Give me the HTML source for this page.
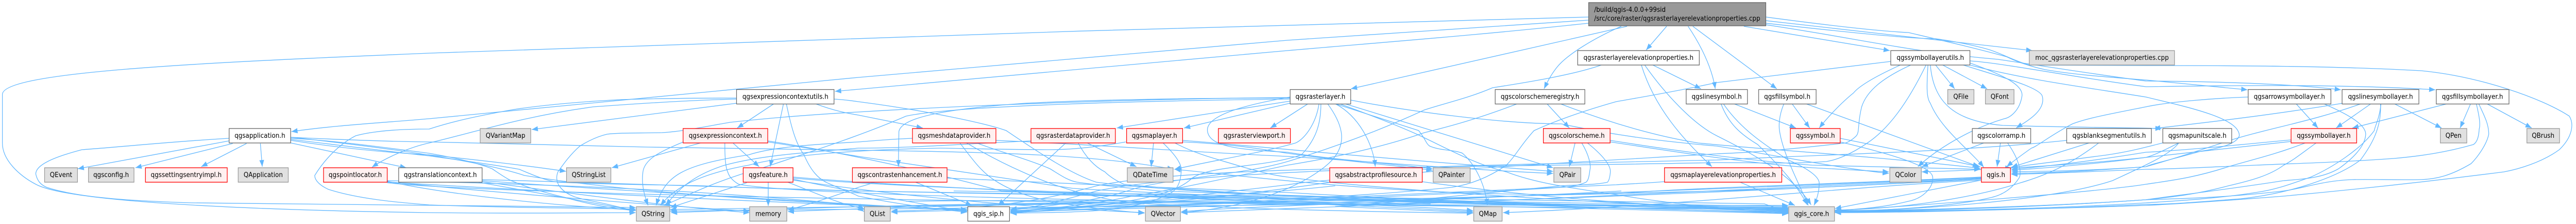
<!DOCTYPE html>
<html><head><meta charset="utf-8"><title>Include graph</title>
<style>html,body{margin:0;padding:0;background:#fff;width:100%;height:100%;overflow:hidden}svg{display:block;position:absolute;left:0;top:0;width:100vw;height:100vh}svg text{font-family:"DejaVu Sans","Liberation Sans",sans-serif;font-size:12.9px;fill:#000;text-anchor:middle}.w{fill:#fff;stroke:#666;stroke-width:1.33}.g{fill:#e0e0e0;stroke:#999;stroke-width:1.33}.r{fill:#fff0f0;stroke:#f00;stroke-width:1.33}.m{fill:#999;stroke:#666;stroke-width:1.33}</style></head><body>
<svg xmlns="http://www.w3.org/2000/svg" viewBox="0 0 5402 434" preserveAspectRatio="none">
<defs><marker id="a" markerUnits="userSpaceOnUse" markerWidth="14" markerHeight="11" refX="13" refY="5" orient="auto"><path d="M0,0 L13,5 L0,10 Z" fill="#63b8ff"/></marker></defs>
<g fill="none" stroke="#63b8ff" stroke-width="1.33" marker-end="url(#a)">
<path d="M3331,33 C2600,50 1500,80 900,103 C400,122 5,140 5,183 L5,277 C5,310 40,340 75,357 C150,395 600,408 900,412 C1100,414 1250,412 1333,412"/>
<path d="M3331,39 C3100,52 2900,66 2700,78 C2400,100 2100,125 1800,150 C1500,178 1200,205 900,230 C800,238 700,243 611,255"/>
<path d="M3331,45 C3100,68 2900,82 2700,98 C2400,122 2100,148 1800,173 L1751,177"/>
<path d="M3412,51 L2833,172"/>
<path d="M3400,51 C3340,75 3290,105 3270,125 C3255,140 3244,160 3238,172"/>
<path d="M3495,51 L3452,97"/>
<path d="M3540,51 C3565,85 3590,130 3597,172"/>
<path d="M3550,51 L3726,172"/>
<path d="M3657,51 L3963,98"/>
<path d="M3703,33 C3800,45 3930,60 4002,63 C4080,80 4150,95 4208,110 C4230,120 4255,128 4289,135 C4350,145 4430,150 4500,155 L4713,174"/>
<path d="M3703,40 C3850,55 4100,82 4262,98"/>
<path d="M3703,45 C3850,60 4000,75 4059,75 C4100,80 4150,90 4174,97 C4200,105 4225,118 4255,126 C4350,127 4450,127 4500,127 C4700,127 4900,128 5077,137 C5200,148 5330,190 5388,225 C5398,240 5395,265 5367,290 C5330,315 5280,328 5251,333 C5150,345 5000,362 4789,380 C4650,390 4550,396 4500,398 C4300,405 4000,410 3848,412"/>
<path d="M3703,48 C3900,75 4000,100 4190,115 C4300,130 4400,145 4500,157 C4650,158 4800,162 4909,174"/>
<path d="M4059,126 L4099,172"/>
<path d="M4074,126 L4167,172"/>
<path d="M3985,126 C3940,145 3900,165 3887,180 C3860,200 3830,230 3815,248"/>
<path d="M4043,126 C4040,170 4040,190 4048,200 C4070,250 4130,290 4160,324"/>
<path d="M4117,126 C4200,150 4280,170 4283,187 C4290,215 4250,235 4228,248"/>
<path d="M4131,122 C4200,145 4245,165 4240,187 C4235,215 4215,228 4203,230 C4130,250 4060,290 4022,323"/>
<path d="M4048,126 C4055,200 4100,235 4200,243 C4350,247 4450,247 4533,249"/>
<path d="M4007,126 C3950,150 3915,175 3904,207 C3895,240 3900,255 3893,263 C3880,275 3870,277 3870,277 C3700,295 3650,296 3600,298 C3200,320 3000,330 2850,345 C2600,380 2400,400 2119,408"/>
<path d="M4039,126 C4000,200 3960,250 3916,277 C3880,300 3850,310 3830,313 C3750,318 3700,315 3600,315 C3100,325 2500,320 2300,360 C2200,385 2100,405 1869,409"/>
<path d="M3965,119 L3600,160 C3500,180 3430,190 3389,197 C3320,215 3260,235 3217,253 C3190,280 3180,300 3159,320 C3120,345 3080,358 3044,363 C2950,372 2880,376 2815,380 C2400,395 1800,400 1405,406"/>
<path d="M4131,126 C4250,155 4380,170 4500,188 C4600,210 4696,230 4696,263 C4690,280 4650,288 4615,293 C4550,310 4510,318 4500,323 C4400,330 4300,332 4218,333"/>
<path d="M4131,118 C4200,122 4350,150 4500,168 C4650,166 4900,162 5107,174"/>
<path d="M4714,188 C4650,190 4550,197 4500,207 C4430,220 4380,228 4346,240 C4300,262 4270,285 4260,287 C4240,300 4225,310 4208,323"/>
<path d="M4815,201 L4861,248"/>
<path d="M4873,201 C4920,220 4961,240 4961,260 C4960,285 4930,310 4904,327 C4870,345 4830,347 4789,350 C4650,370 4550,380 4500,387 C4300,400 4000,408 3848,410"/>
<path d="M4913,200 C4750,225 4600,240 4517,249"/>
<path d="M4951,201 C4850,235 4750,250 4673,273 C4600,295 4550,310 4500,323 C4400,330 4300,335 4218,336"/>
<path d="M4972,201 L4899,248"/>
<path d="M5021,201 L5120,248"/>
<path d="M4993,201 C4990,230 4980,245 4979,253 C4950,290 4890,325 4846,343 C4800,358 4770,368 4730,373 C4650,385 4550,390 4500,393 C4300,405 4000,410 3848,411"/>
<path d="M4992,201 C4995,250 4970,285 4950,310 C4900,345 4800,375 4700,385 C4600,392 4550,396 4500,396 C4300,405 4000,412 3848,412"/>
<path d="M5132,201 L4933,248"/>
<path d="M5181,201 L5159,248"/>
<path d="M5215,201 L5309,248"/>
<path d="M5193,201 C5199,225 5202,240 5199,250 C5198,265 5195,275 5187,280 C5130,295 5080,302 5020,307 C4900,315 4800,317 4731,320 C4650,323 4550,328 4500,328 C4400,332 4300,336 4218,338"/>
<path d="M5198,201 C5210,225 5219,240 5219,260 C5215,280 5195,305 5182,317 C5140,340 5110,347 5077,348 C5020,349 4970,347 4933,348 C4870,350 4830,365 4789,370 C4650,385 4550,385 4500,387 C4300,400 4000,410 3848,410"/>
<path d="M4834,277 C4770,300 4720,310 4673,323 C4600,345 4550,350 4500,357 C4400,372 4000,400 3848,408"/>
<path d="M4857,277 C4830,295 4810,310 4789,320 C4760,340 4720,350 4673,360 C4600,378 4550,382 4500,387 C4300,400 4000,408 3848,408"/>
<path d="M4805,271 C4700,280 4600,290 4500,295 C4400,310 4300,322 4218,328"/>
<path d="M4805,274 C4700,285 4600,295 4500,305 C4350,320 4150,330 4030,333"/>
<path d="M4569,277 C4540,290 4520,300 4500,305 C4420,315 4300,325 4218,330"/>
<path d="M4535,277 C4500,285 4470,293 4420,300 C4300,315 4200,325 4218,326"/>
<path d="M4569,277 C4550,300 4500,320 4430,350 C4300,390 4000,408 3848,409"/>
<path d="M4381,277 L4218,324"/>
<path d="M4401,277 C4340,320 4290,340 4234,355 C4150,380 4000,405 3848,407"/>
<path d="M4334,272 C4100,295 3800,300 3600,310 C3100,320 2500,330 2300,370 C2200,395 2150,405 2119,407"/>
<path d="M3859,268 L4153,323"/>
<path d="M3859,275 C3950,295 4050,320 4053,343 C4055,365 4030,385 4002,390 C3950,402 3900,405 3848,408"/>
<path d="M4160,277 L4030,323"/>
<path d="M4195,277 L4188,323"/>
<path d="M4210,277 C4235,310 4240,335 4234,345 C4220,365 4200,378 4174,383 C4100,400 3950,408 3848,410"/>
<path d="M3636,201 L3766,248"/>
<path d="M3609,201 C3625,240 3650,260 3686,280 C3730,320 3770,360 3790,397"/>
<path d="M3614,201 C3650,250 3700,280 3750,310 C3800,330 3815,345 3815,355 C3815,375 3808,390 3804,398"/>
<path d="M3758,201 L3795,248"/>
<path d="M3741,201 C3730,225 3730,245 3732,255 C3740,300 3770,350 3792,398"/>
<path d="M3787,201 L4150,323"/>
<path d="M4155,345 C4000,355 3800,365 3600,370 C3100,385 2400,395 1869,411"/>
<path d="M4155,347 C3800,365 3300,385 2900,395 C2300,405 1800,405 1405,409"/>
<path d="M4155,349 C3900,360 3500,400 3152,412"/>
<path d="M4155,346 C3800,365 3000,395 2477,412"/>
<path d="M4155,344 C3800,360 2800,395 2119,410"/>
<path d="M4155,349 L3848,404"/>
<path d="M4155,343 C3900,355 3500,365 3400,375 C3000,385 2700,350 2463,328"/>
<path d="M3358,126 C3300,145 3200,160 3130,170 C3080,190 3030,200 2987,213 C2900,250 2800,285 2700,313 C2600,340 2450,345 2374,367 C2300,390 2200,400 2119,405"/>
<path d="M3442,126 C3470,210 3530,270 3590,323"/>
<path d="M3449,126 C3490,180 3550,240 3600,263 C3680,300 3760,340 3798,397"/>
<path d="M3466,126 L3567,172"/>
<path d="M3182,201 C3100,230 3040,245 2987,257 C2900,285 2800,305 2700,320 C2600,340 2450,370 2374,380 C2300,395 2200,405 2119,409"/>
<path d="M3244,201 L3291,248"/>
<path d="M3272,201 C3380,240 3480,265 3561,277 C3700,290 3900,300 4153,326"/>
<path d="M3303,277 L3291,323"/>
<path d="M3317,277 C3332,300 3337,320 3334,330 C3332,345 3330,350 3326,353 C3310,360 3290,362 3274,363 C3000,380 2400,400 2119,411"/>
<path d="M3329,277 C3360,300 3378,320 3377,333 C3376,345 3374,350 3371,353 C3350,358 3310,358 3274,360 C3100,375 2900,395 2800,400 L3089,412"/>
<path d="M3377,272 C3500,290 3650,310 3800,320 L4153,328"/>
<path d="M3377,275 C3500,292 3650,315 3800,325 L3961,333"/>
<path d="M3649,353 L3764,398"/>
<path d="M3490,352 C3450,355 3420,356 3389,358 C3100,370 2500,395 2119,412"/>
<path d="M2788,349 C2750,352 2720,355 2700,358 C2500,380 2300,400 2119,413"/>
<path d="M2982,352 C3200,380 3450,400 3750,408"/>
<path d="M2743,201 L2664,248"/>
<path d="M2705,188 C2600,205 2530,225 2532,253 C2535,285 2600,290 2700,295 C2800,310 2900,315 3004,327"/>
<path d="M2705,190 C2500,190 2300,193 2150,200 C2000,210 1890,225 1885,255 L1884,323"/>
<path d="M2705,196 L2342,248"/>
<path d="M2705,200 L2483,248"/>
<path d="M2705,189 C2500,190 2100,200 1800,217 C1700,222 1600,230 1531,237 C1480,245 1430,255 1388,257 C1340,258 1300,257 1273,260 C1250,265 1230,275 1216,283 C1195,300 1180,320 1170,333 C1165,345 1168,355 1175,363 C1190,380 1215,385 1244,390 C1290,398 1310,405 1333,408"/>
<path d="M2705,192 C2400,195 2000,205 1900,225 C1800,265 1680,300 1600,325 C1500,350 1440,380 1392,398"/>
<path d="M2766,201 C2760,240 2735,270 2717,277 C2650,295 2550,310 2463,328"/>
<path d="M2770,201 C2770,240 2760,270 2729,300 C2650,325 2540,320 2500,345 C2450,390 2300,400 2119,409"/>
<path d="M2784,201 C2815,240 2830,280 2786,317 C2740,355 2640,400 2477,412"/>
<path d="M2800,201 C2850,225 2880,280 2884,323"/>
<path d="M2800,201 C2880,225 2950,245 2975,253 C2990,270 2990,278 2998,283 C3020,292 3050,290 3067,297 C3095,320 3115,360 3119,398"/>
<path d="M2820,201 L3257,325"/>
<path d="M2809,201 C2880,225 2950,250 2987,267 C3050,295 3100,320 3159,333 C3220,355 3300,365 3389,377 C3500,395 3650,408 3750,412"/>
<path d="M2833,194 C2950,215 3150,240 3274,240 C3400,265 3500,275 3600,283 C3750,305 3850,325 3961,336"/>
<path d="M1914,268 C1860,270 1830,273 1800,275 C1700,280 1620,285 1570,300 C1430,320 1395,340 1376,398"/>
<path d="M2013,277 C2040,310 2060,335 2087,350 C2120,370 2160,382 2202,390 C2270,402 2340,408 2400,413"/>
<path d="M2027,277 C2060,295 2100,315 2144,333 C2220,365 2300,385 2374,393 C2600,405 2850,410 3089,413"/>
<path d="M2048,277 C2100,295 2160,310 2202,327 C2225,340 2240,350 2259,353 C2310,360 2380,365 2431,370 C2900,385 3400,400 3750,410"/>
<path d="M2089,272 C2300,280 2500,295 2700,303 C2900,315 3100,330 3257,336"/>
<path d="M2235,277 L2093,398"/>
<path d="M2261,277 C2280,310 2300,325 2317,333 C2330,345 2345,352 2357,357 C2500,370 2900,395 3750,411"/>
<path d="M2280,277 L2383,323"/>
<path d="M2162,273 C2000,280 1900,287 1800,287 C1700,295 1600,300 1520,320 C1450,340 1420,370 1396,398"/>
<path d="M2419,277 L2414,323"/>
<path d="M2439,277 C2465,300 2480,320 2477,333 C2475,360 2465,370 2449,377 C2410,395 2360,402 2317,407 C2250,412 2180,412 2119,413"/>
<path d="M2464,277 C2510,300 2560,310 2604,323 C2640,332 2670,340 2700,343 C2900,370 3400,395 3750,409"/>
<path d="M2480,275 C2600,280 2650,290 2700,297 C2800,310 2900,318 3004,330"/>
<path d="M2480,272 C2600,280 2800,300 3257,332"/>
<path d="M2361,275 C2300,285 2250,290 2202,290 C2100,290 2000,287 1972,287 C1800,290 1650,300 1570,320 C1450,340 1410,370 1385,398"/>
<path d="M1986,345 C2200,355 2500,365 2700,373 C3000,390 3400,400 3750,407"/>
<path d="M1920,353 L2038,398"/>
<path d="M1834,353 C1820,358 1810,360 1800,363 C1750,380 1700,395 1652,407"/>
<path d="M1611,353 L1611,399"/>
<path d="M1566,354 L1406,402"/>
<path d="M1663,345 C1900,365 2500,385 3750,403"/>
<path d="M1663,347 C1750,365 1900,390 2028,410"/>
<path d="M1663,349 C1850,375 2100,400 2400,412"/>
<path d="M1652,353 C1700,370 1760,395 1800,402 L1812,410"/>
<path d="M1663,343 C2000,370 2700,390 3089,410"/>
<path d="M1433,275 C1380,295 1350,310 1348,335 C1345,360 1352,380 1359,398"/>
<path d="M1469,277 L1283,325"/>
<path d="M1520,277 C1520,310 1522,325 1526,333 C1530,345 1540,352 1549,357 C1650,375 2300,395 3750,406"/>
<path d="M1537,277 L1592,323"/>
<path d="M1610,275 C1680,285 1750,295 1800,303 C2000,330 2150,350 2250,365 C2600,385 3300,400 3750,404"/>
<path d="M1610,273 C1800,300 2000,345 2100,370 C2500,385 2900,395 3089,408"/>
<path d="M1623,201 L1546,248"/>
<path d="M1643,201 L1615,323"/>
<path d="M1649,201 C1660,250 1670,280 1686,300 C1700,330 1715,345 1732,353 C1760,365 1790,375 1800,380 C1880,395 1960,405 2028,411"/>
<path d="M1710,201 C1750,215 1780,220 1800,223 L1935,248"/>
<path d="M1749,192 C1770,193 1785,195 1800,197 C1950,215 2070,240 2110,253 C2170,290 2240,335 2299,353 C2400,365 2700,390 3750,405"/>
<path d="M1545,190 C1450,190 1370,191 1302,193 C1220,197 1140,203 1072,213 C1000,225 950,235 900,250 C850,250 790,252 746,263 C710,280 680,310 660,340 C660,350 672,360 689,367 C750,385 830,392 900,397 C1080,403 1220,403 1333,405"/>
<path d="M1545,192 C1450,194 1350,200 1244,207 C1100,225 1000,255 900,277 C860,285 810,305 780,324"/>
<path d="M1545,200 L1115,251"/>
<path d="M480,268 C350,275 250,285 172,290 C110,305 75,320 75,337 C78,350 85,358 98,363 C170,385 300,390 402,393 C600,397 1000,398 1333,402"/>
<path d="M480,273 L163,327"/>
<path d="M488,278 L284,325"/>
<path d="M517,278 L422,323"/>
<path d="M546,278 L550,323"/>
<path d="M610,277 L852,325"/>
<path d="M610,266 C700,270 800,274 900,275 C1050,278 1200,282 1359,285 C1500,287 1650,290 1800,291 C2100,295 2300,300 2461,328"/>
<path d="M610,268 C700,272 800,285 900,297 C950,305 1000,315 1032,327 C1045,335 1060,345 1072,350 C1110,365 1150,375 1187,383 C1230,395 1290,405 1333,408"/>
<path d="M610,270 C700,280 800,292 900,302 C960,310 1030,318 1089,328 C1120,340 1145,350 1170,353 C1280,358 1400,358 1474,360 C1600,365 1700,368 1800,370 C2300,380 3100,395 3750,402"/>
<path d="M610,272 C700,285 800,295 900,300 C1000,310 1100,320 1187,332"/>
<path d="M610,266 C800,285 1000,310 1100,340 C1300,370 1600,390 2028,407"/>
<path d="M1011,348 C1300,355 1600,365 1800,370 C2300,378 3100,390 3750,400"/>
<path d="M1011,350 C1300,370 1800,395 2028,409"/>
<path d="M1003,353 L1333,408"/>
<path d="M1011,352 C1200,375 1400,400 1572,412"/>
<path d="M812,351 C900,370 1100,395 1333,407"/>
<path d="M812,353 C950,360 1400,385 2028,406"/>
<path d="M812,352 C1000,370 1400,400 1572,409"/>
<path d="M812,354 C1000,375 2200,400 3750,398"/>
<path d="M812,350 C1200,358 1500,370 1800,398 L1812,406"/>
<path d="M2400,395 C2100,395 1850,402 1652,410"/>
<path d="M3000,395 C2500,385 1900,395 1407,412"/>
<path d="M2800,360 C2600,380 2300,395 2119,411"/>
<path d="M3400,370 C3000,390 2600,400 2477,410"/>
<path d="M2100,375 C2500,382 3100,392 3750,413"/>
<path d="M1900,390 C2300,385 3000,395 3750,414"/>
<path d="M2000,370 C2500,375 3100,385 3700,395 L3750,412"/>
</g>
<g>
<rect class="m" x="3331.5" y="5" width="371.5" height="45"/>
<text x="3343" y="23" style="text-anchor:start">/build/qgis-4.0.0+99sid</text>
<text x="3343" y="40" style="text-anchor:start">/src/core/raster/qgsrasterlayerelevationproperties.cpp</text>
<rect class="w" x="3308.5" y="98" width="255" height="28"/><text x="3436" y="116">qgsrasterlayerelevationproperties.h</text>
<rect class="w" x="3965" y="98" width="166" height="28"/><text x="4048" y="116">qgssymbollayerutils.h</text>
<rect class="g" x="4255.5" y="98" width="304.5" height="28"/><text x="4408" y="116">moc_qgsrasterlayerelevationproperties.cpp</text>
<rect class="w" x="1544.5" y="173.5" width="204.5" height="28"/><text x="1647" y="191.5">qgsexpressioncontextutils.h</text>
<rect class="w" x="2705.5" y="173.5" width="127" height="28"/><text x="2769" y="191.5">qgsrasterlayer.h</text>
<rect class="w" x="3135.5" y="173.5" width="188" height="28"/><text x="3229.5" y="191.5">qgscolorschemeregistry.h</text>
<rect class="w" x="3536" y="173.5" width="128.5" height="28"/><text x="3600" y="191.5">qgslinesymbol.h</text>
<rect class="w" x="3688" y="173.5" width="120.5" height="28"/><text x="3748" y="191.5">qgsfillsymbol.h</text>
<rect class="g" x="4084.5" y="173.5" width="55" height="28"/><text x="4112" y="191.5">QFile</text>
<rect class="g" x="4163.5" y="173.5" width="60" height="28"/><text x="4193.5" y="191.5">QFont</text>
<rect class="w" x="4714.5" y="173.5" width="173.5" height="28"/><text x="4801" y="191.5">qgsarrowsymbollayer.h</text>
<rect class="w" x="4911.5" y="173.5" width="161" height="28"/><text x="4992" y="191.5">qgslinesymbollayer.h</text>
<rect class="w" x="5109" y="173.5" width="152.5" height="28"/><text x="5185" y="191.5">qgsfillsymbollayer.h</text>
<rect class="w" x="480.5" y="249" width="129" height="28"/><text x="545" y="267">qgsapplication.h</text>
<rect class="g" x="1007" y="249" width="106" height="28"/><text x="1060" y="267">QVariantMap</text>
<rect class="r" x="1432.5" y="249" width="177.5" height="28"/><text x="1521" y="267">qgsexpressioncontext.h</text>
<rect class="r" x="1913.5" y="249" width="175" height="28"/><text x="2001" y="267">qgsmeshdataprovider.h</text>
<rect class="r" x="2162" y="249" width="177" height="28"/><text x="2250.5" y="267">qgsrasterdataprovider.h</text>
<rect class="r" x="2362.5" y="249" width="117.5" height="28"/><text x="2421" y="267">qgsmaplayer.h</text>
<rect class="r" x="2555" y="249" width="151" height="28"/><text x="2630.5" y="267">qgsrasterviewport.h</text>
<rect class="r" x="3236.5" y="249" width="140" height="28"/><text x="3306.5" y="267">qgscolorscheme.h</text>
<rect class="r" x="3754.5" y="249" width="104.5" height="28"/><text x="3807" y="267">qgssymbol.h</text>
<rect class="w" x="4136" y="249" width="122.5" height="28"/><text x="4197" y="267">qgscolorramp.h</text>
<rect class="w" x="4334" y="249" width="177.5" height="28"/><text x="4423" y="267">qgsblanksegmentutils.h</text>
<rect class="w" x="4535.5" y="249" width="144.5" height="28"/><text x="4608" y="267">qgsmapunitscale.h</text>
<rect class="r" x="4804.5" y="249" width="137.5" height="28"/><text x="4873" y="267">qgssymbollayer.h</text>
<rect class="g" x="5117.5" y="249" width="55.5" height="28"/><text x="5145" y="267">QPen</text>
<rect class="g" x="5299" y="249" width="68.5" height="28"/><text x="5333" y="267">QBrush</text>
<rect class="g" x="93.5" y="325" width="69" height="28"/><text x="128" y="343">QEvent</text>
<rect class="g" x="185.5" y="325" width="95.5" height="28"/><text x="233" y="343">qgsconfig.h</text>
<rect class="r" x="305" y="325" width="171.5" height="28"/><text x="390.5" y="343">qgssettingsentryimpl.h</text>
<rect class="g" x="499.5" y="325" width="105" height="28"/><text x="552" y="343">QApplication</text>
<rect class="r" x="678.5" y="325" width="133.5" height="28"/><text x="745" y="343">qgspointlocator.h</text>
<rect class="w" x="836" y="325" width="175" height="28"/><text x="923.5" y="343">qgstranslationcontext.h</text>
<rect class="g" x="1188" y="325" width="93" height="28"/><text x="1234.5" y="343">QStringList</text>
<rect class="r" x="1558.5" y="325" width="104.5" height="28"/><text x="1611" y="343">qgsfeature.h</text>
<rect class="r" x="1787.5" y="325" width="198.5" height="28"/><text x="1887" y="343">qgscontrastenhancement.h</text>
<rect class="g" x="2364" y="325" width="96" height="28"/><text x="2412" y="343">QDateTime</text>
<rect class="r" x="2788.5" y="325" width="194" height="28"/><text x="2885.5" y="343">qgsabstractprofilesource.h</text>
<rect class="g" x="3005.5" y="325" width="77.5" height="28"/><text x="3044" y="343">QPainter</text>
<rect class="g" x="3258.5" y="325" width="56.5" height="28"/><text x="3287" y="343">QPair</text>
<rect class="r" x="3490.5" y="325" width="246" height="28"/><text x="3613.5" y="343">qgsmaplayerelevationproperties.h</text>
<rect class="g" x="3963" y="325" width="66" height="28"/><text x="3996" y="343">QColor</text>
<rect class="r" x="4155" y="325" width="61" height="28"/><text x="4185.5" y="343">qgis.h</text>
<rect class="g" x="1334.5" y="400.5" width="70" height="28"/><text x="1369.5" y="418.5">QString</text>
<rect class="g" x="1572" y="400.5" width="78" height="28"/><text x="1611" y="418.5">memory</text>
<rect class="g" x="1812.5" y="400.5" width="54.5" height="28"/><text x="1840" y="418.5">QList</text>
<rect class="w" x="2029.5" y="400.5" width="87.5" height="28"/><text x="2073" y="418.5">qgis_sip.h</text>
<rect class="g" x="2402" y="400.5" width="73.5" height="28"/><text x="2439" y="418.5">QVector</text>
<rect class="g" x="3090.5" y="400.5" width="59.5" height="28"/><text x="3120" y="418.5">QMap</text>
<rect class="g" x="3751" y="400.5" width="96" height="28"/><text x="3799" y="418.5">qgis_core.h</text>
</g>
</svg>
</body></html>
